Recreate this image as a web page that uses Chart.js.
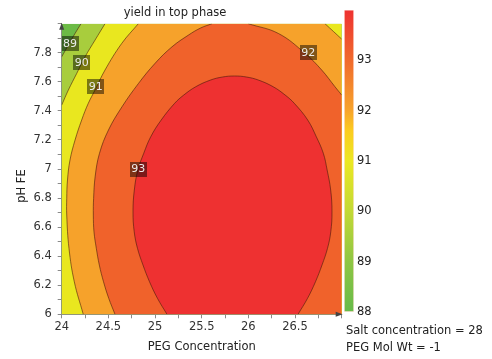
<!DOCTYPE html>
<html>
<head>
<meta charset="utf-8">
<title>yield in top phase</title>
<script src="https://cdn.jsdelivr.net/npm/chart.js@4.4.1/dist/chart.umd.min.js"></script>
<style>
  html, body { margin: 0; padding: 0; background: #fff; }
  #wrap { position: relative; width: 492px; height: 359px; overflow: hidden;
          font-family: "DejaVu Sans", Verdana, sans-serif; }
  #main { position: absolute; left: 0; top: 0; }
  #bar  { position: absolute; left: 344px; top: 0; }
  .note { position: absolute; left: 346px; font-size: 11.5px; line-height: 14px;
          color: #222; white-space: nowrap; }
</style>
</head>
<body>
<div id="wrap">
  <canvas id="main" width="350" height="359"></canvas>
  <canvas id="bar" width="40" height="330"></canvas>
  <div class="note" style="top:323px">Salt concentration = 28</div>
  <div class="note" style="top:340px">PEG Mol Wt = -1</div>
</div>
<script>
// ---- data -------------------------------------------------------------
const xRange = [24, 27];            // PEG Concentration
const yRange = [6, 8];              // pH FE
const xTickLabels = [24, 24.5, 25, 25.5, 26, 26.5];
const yTickLabels = [6, 6.2, 6.4, 6.6, 6.8, 7, 7.2, 7.4, 7.6, 7.8];
const levels = [89, 90, 91, 92, 93];
const barRange = [88, 94];
const barTickLabels = [88, 89, 90, 91, 92, 93];

// contour traces of yield, as [PEG, pH] pairs
const c89 = [[24.207, 8.0], [24.143, 7.933], [24.071, 7.853], [24.0, 7.772]];
const c90 = [[24.464, 8.0], [24.357, 7.887], [24.25, 7.772], [24.161, 7.658],
             [24.071, 7.543], [24.0, 7.44]];
const c91a = [[24.821, 8.0], [24.643, 7.864], [24.464, 7.681], [24.357, 7.543],
              [24.285, 7.452], [24.214, 7.337], [24.143, 7.199], [24.089, 7.062],
              [24.062, 6.924], [24.054, 6.798], [24.054, 6.683], [24.078, 6.454],
              [24.135, 6.224], [24.231, 6.0]];
const c91b = [[26.821, 8.0], [27.0, 7.894]];
const c92a = [[25.61, 8.0], [25.487, 7.97], [25.359, 7.922], [25.182, 7.841],
              [25.0, 7.727], [24.823, 7.589], [24.646, 7.428], [24.501, 7.268],
              [24.405, 7.108], [24.359, 6.951], [24.342, 6.798], [24.339, 6.683],
              [24.346, 6.568], [24.371, 6.454], [24.403, 6.339], [24.448, 6.224],
              [24.504, 6.11], [24.571, 6.0]];
const c92b = [[25.999, 8.0], [26.321, 7.933], [26.607, 7.796], [26.786, 7.681],
              [26.928, 7.566], [27.0, 7.509]];
const c93 = [[25.128, 6.0], [25.026, 6.11], [24.941, 6.224], [24.871, 6.339],
             [24.812, 6.454], [24.777, 6.568], [24.764, 6.704], [24.778, 6.855],
             [24.816, 6.993], [24.879, 7.108], [24.954, 7.222], [25.066, 7.337],
             [25.21, 7.452], [25.308, 7.509], [25.436, 7.566], [25.594, 7.612],
             [25.722, 7.633], [25.851, 7.64], [25.98, 7.633], [26.108, 7.612],
             [26.266, 7.566], [26.394, 7.509], [26.492, 7.452], [26.636, 7.337],
             [26.728, 7.222], [26.803, 7.108], [26.844, 6.993], [26.882, 6.855],
             [26.896, 6.704], [26.883, 6.568], [26.848, 6.454], [26.789, 6.339],
             [26.719, 6.224], [26.634, 6.11], [26.532, 6.0]];
// where each level label sits on its contour
const levelLabelAt = [[24.089, 7.864], [24.214, 7.734], [24.364, 7.566],
                      [26.642, 7.803], [24.821, 7.0]];

// ---- styling ----------------------------------------------------------
const FONT = '"DejaVu Sans", Verdana, sans-serif';
const bandColors = ['#6cbb46', '#a8cd3d', '#e9e71f', '#f6a22b', '#f0622b', '#ee3131'];
const barStops = [[88, '#66bb4a'], [89, '#8ec643'], [90, '#c2d935'], [91, '#ebe822'],
                  [91.6, '#fbcc1f'], [92, '#f7a42b'], [93, '#f06a2c'], [94, '#ee3131']];
const lineColor = 'rgba(70, 25, 10, 0.65)';
const SMOOTH = 0.4;

// ---- build filled bands (area above each level) ------------------------
const [x0, x1] = xRange, [y0, y1] = yRange;
const onEdge = ([x, y]) => x === x0 || x === x1 || y === y0 || y === y1;
// points on the plot frame are doubled so the spline meets them with a
// hard corner: band edges then follow the stroked contour exactly
const toPts = (a, hardEdges) => {
  const out = [];
  a.forEach(p => {
    out.push({ x: p[0], y: p[1] });
    if (hardEdges && onEdge(p)) out.push({ x: p[0], y: p[1] });
  });
  return out;
};
const rev = a => a.slice().reverse();
const bandPolys = [
  [[x0, y0], [x1, y0], [x1, y1], [x0, y1]],
  [...c89, [x0, y0], [x1, y0], [x1, y1]],
  [...c90, [x0, y0], [x1, y0], [x1, y1]],
  [...c91a, [x1, y0], ...rev(c91b)],
  [...c92a, [x1, y0], ...rev(c92b)],
  c93
];

const datasets = [];
bandPolys.forEach((poly, i) => {
  datasets.push({
    data: toPts(poly, true), showLine: true, fill: 'shape',
    backgroundColor: bandColors[i], borderWidth: 0, borderColor: 'rgba(0,0,0,0)',
    pointRadius: 0, tension: SMOOTH, order: 20 - i
  });
});
[c89, c90, c91a, c91b, c92a, c92b, c93].forEach(c => {
  datasets.push({
    data: toPts(c, false), showLine: true, fill: false,
    borderColor: lineColor, borderWidth: 0.9, pointRadius: 0, tension: SMOOTH, order: 2
  });
});

// level labels in dark boxes on the contours
const levelLabels = {
  id: 'levelLabels',
  afterDatasetsDraw(chart) {
    const { ctx, scales: { x, y } } = chart;
    ctx.save();
    ctx.font = '11px ' + FONT;
    ctx.textAlign = 'center';
    ctx.textBaseline = 'middle';
    levels.forEach((lv, i) => {
      const px = x.getPixelForValue(levelLabelAt[i][0]);
      const py = y.getPixelForValue(levelLabelAt[i][1]);
      ctx.fillStyle = 'rgba(0,0,0,0.48)';
      ctx.fillRect(Math.round(px - 8.5), Math.round(py - 7.5), 17, 15);
      ctx.fillStyle = '#ececec';
      ctx.fillText(String(lv), px, py + 0.5);
    });
    ctx.restore();
  }
};

// arrowheads at the axis ends, plus the title texts
const axisDecor = {
  id: 'axisDecor',
  afterDraw(chart) {
    const { ctx, chartArea: a } = chart;
    ctx.save();
    ctx.fillStyle = '#444';
    ctx.beginPath();
    ctx.moveTo(a.left, a.top - 1);
    ctx.lineTo(a.left - 2.5, a.top + 6);
    ctx.lineTo(a.left + 2.5, a.top + 6);
    ctx.closePath();
    ctx.fill();
    ctx.beginPath();
    ctx.moveTo(a.right + 1, a.bottom);
    ctx.lineTo(a.right - 6, a.bottom - 2.5);
    ctx.lineTo(a.right - 6, a.bottom + 2.5);
    ctx.closePath();
    ctx.fill();

    ctx.fillStyle = '#222';
    ctx.font = '11.5px ' + FONT;
    ctx.textAlign = 'center';
    ctx.textBaseline = 'middle';
    ctx.fillText('yield in top phase', 175, 13);
    ctx.translate(22, 186);
    ctx.rotate(-Math.PI / 2);
    ctx.fillText('pH FE', 0, 0);
    ctx.restore();
  }
};

const near = (list, v) => list.some(t => Math.abs(t - v) < 1e-6);

new Chart(document.getElementById('main'), {
  type: 'scatter',
  data: { datasets },
  options: {
    responsive: false, animation: false, events: [],
    layout: { padding: { left: 0, right: 8.3, top: 23.7, bottom: 0 } },
    plugins: { legend: { display: false }, tooltip: { enabled: false }, title: { display: false } },
    scales: {
      x: {
        type: 'linear', min: x0, max: x1, z: 1,
        afterFit: s => { s.height = 44.7; },
        ticks: {
          stepSize: 0.25, autoSkip: false, maxRotation: 0, maxTicksLimit: 100, padding: 2,
          color: '#333', font: { family: FONT, size: 11.5 },
          callback: v => near(xTickLabels, v) ? String(Number(v.toFixed(2))) : ''
        },
        grid: { drawOnChartArea: false, tickLength: 4, color: '#8a8a8a' },
        border: { display: true, color: '#8a8a8a', width: 1 },
        title: { display: true, text: 'PEG Concentration', color: '#222',
                 font: { family: FONT, size: 11.5 }, padding: { top: 2, bottom: 5.4 } }
      },
      y: {
        type: 'linear', min: y0, max: y1, z: 1,
        afterFit: s => { s.width = 61.7; },
        ticks: {
          stepSize: 0.1, autoSkip: false, maxTicksLimit: 100, padding: 6,
          color: '#333', font: { family: FONT, size: 11.5 },
          callback: v => near(yTickLabels, v) ? String(Number(v.toFixed(1))) : ''
        },
        grid: { drawOnChartArea: false, tickLength: 4, color: '#8a8a8a' },
        border: { display: true, color: '#8a8a8a', width: 1 },
        title: { display: false }
      }
    }
  },
  plugins: [levelLabels, axisDecor]
});

// colour scale bar
new Chart(document.getElementById('bar'), {
  type: 'bar',
  data: {
    labels: [''],
    datasets: [{
      data: [barRange],
      backgroundColor: c => {
        const chart = c.chart;
        if (!chart.chartArea) return barStops[barStops.length - 1][1];
        const ys = chart.scales.y;
        const g = chart.ctx.createLinearGradient(0, ys.getPixelForValue(barRange[0]),
                                                 0, ys.getPixelForValue(barRange[1]));
        barStops.forEach(([v, col]) =>
          g.addColorStop((v - barRange[0]) / (barRange[1] - barRange[0]), col));
        return g;
      },
      borderColor: 'rgba(255, 225, 215, 0.9)', borderWidth: 1, borderSkipped: false,
      barPercentage: 1, categoryPercentage: 1
    }]
  },
  options: {
    responsive: false, animation: false, events: [],
    layout: { padding: { top: 3, bottom: 18, left: 0, right: 0 } },
    plugins: { legend: { display: false }, tooltip: { enabled: false } },
    scales: {
      x: { display: false },
      y: {
        position: 'right', min: barRange[0], max: barRange[1],
        afterFit: s => { s.width = 30; },
        ticks: {
          stepSize: 1, padding: 3, color: '#222', font: { family: FONT, size: 11.5 },
          callback: v => near(barTickLabels, v) ? String(v) : null
        },
        grid: { display: false, drawTicks: false },
        border: { display: false }
      }
    }
  }
});
</script>
</body>
</html>
